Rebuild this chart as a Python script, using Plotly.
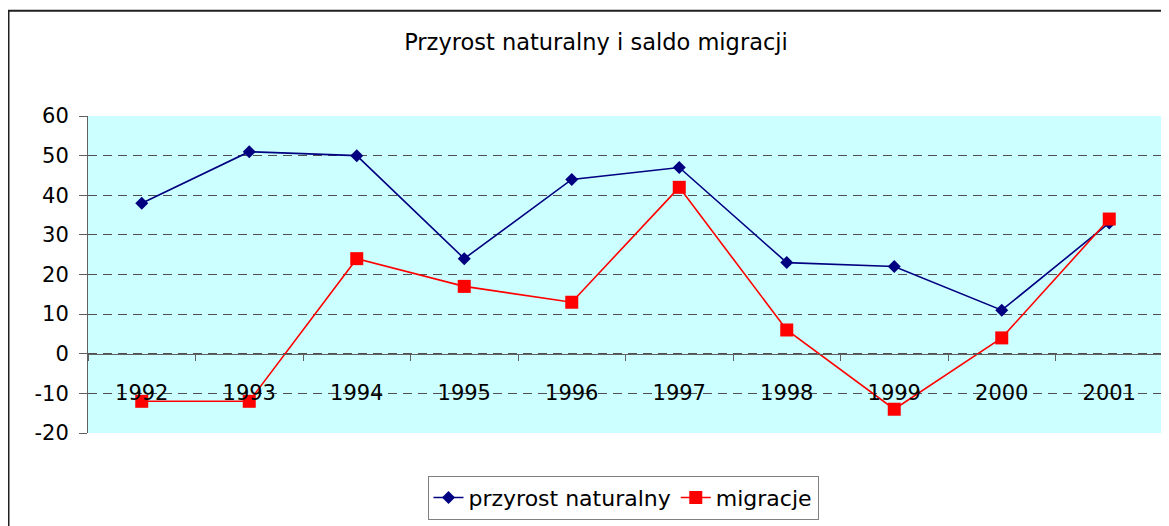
import plotly.graph_objects as go

years = ["1992", "1993", "1994", "1995", "1996", "1997", "1998", "1999", "2000", "2001"]
przyrost = [38, 51, 50, 24, 44, 47, 23, 22, 11, 33]
migracje = [-12, -12, 24, 17, 13, 42, 6, -14, 4, 34]
y_ticks = [-20, -10, 0, 10, 20, 30, 40, 50, 60]
y_tick_labels = ["-20", "-10", "0", "10", "20", "30", "40", "50", "60"]

FONT = "DejaVu Sans, Liberation Sans, Arial, sans-serif"

fig = go.Figure()
fig.add_trace(go.Scatter(
    x=years, y=przyrost, name="przyrost naturalny", mode="lines+markers",
    line=dict(color="#000080", width=1.6),
    marker=dict(symbol="diamond", size=10, color="#000080"),
))
fig.add_trace(go.Scatter(
    x=years, y=migracje, name="migracje", mode="lines+markers",
    line=dict(color="#FF0000", width=1.6),
    marker=dict(symbol="square", size=13, color="#FF0000"),
))

# page is offset by 8px body margin; figure coordinates below
W, H = 1161, 518
L, T = 80, 108
R = W - 1155
B = H - 427
pw, ph = W - L - R, H - T - B

fig.update_layout(
    width=W, height=H,
    margin=dict(l=L, r=R, t=T, b=B),
    paper_bgcolor="white",
    plot_bgcolor="#CCFFFF",
    font=dict(family=FONT, size=21, color="black"),
    title=dict(text="Przyrost naturalny i saldo migracji", x=588 / W, xanchor="center",
               y=1 - 34 / H, yanchor="middle", yref="container",
               font=dict(family=FONT, size=22.5, color="black")),
    showlegend=True,
    legend=dict(orientation="h", x=(615 - L) / pw, xanchor="center",
                y=(427 - 470) / ph, yanchor="top",
                bordercolor="#808080", borderwidth=1, bgcolor="white",
                font=dict(family=FONT, size=22, color="black")),
    xaxis=dict(type="category", categoryorder="array", categoryarray=years,
               range=[-0.5, 9.5], anchor="free", position=0.25,
               showline=True, linecolor="#606060", linewidth=1.2,
               ticks="outside", tickson="boundaries", ticklen=6, tickcolor="#606060",
               showgrid=False, zeroline=False, ticklabelstandoff=20,
               tickfont=dict(family=FONT, size=21, color="black")),
    yaxis=dict(range=[-20, 60], tickvals=y_ticks, ticktext=y_tick_labels,
               showline=True, linecolor="#606060",
               linewidth=1, ticks="outside", ticklen=8, tickcolor="#606060",
               showgrid=True, gridcolor="#505050", gridwidth=1, griddash="9px,6px",
               zeroline=False, ticklabelstandoff=6,
               tickfont=dict(family=FONT, size=21, color="black")),
)

fig.add_shape(type="rect", xref="paper", yref="paper",
              x0=(0.5 - L) / pw, x1=1.2, y0=-1.0, y1=1 + (T - 2) / ph,
              line=dict(color="#202020", width=2), fillcolor="rgba(0,0,0,0)", layer="above")

fig.write_html("out.html")
